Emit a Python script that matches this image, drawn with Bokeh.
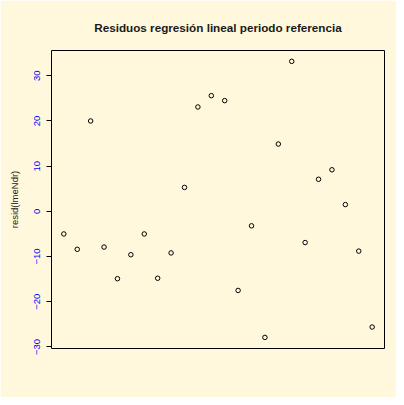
from bokeh.plotting import figure
from bokeh.models import Range1d, FixedTicker
from bokeh.embed import file_html
from bokeh.resources import INLINE

obs_index = list(range(1, 25))
residuals = [-5.0, -8.4, 20.0, -7.9, -14.9, -9.6, -5.0, -14.8, -9.2, 5.3,
             23.1, 25.6, 24.5, -17.5, -3.2, -27.9, 14.9, 33.2, -6.9, 7.1,
             9.2, 1.5, -8.8, -25.6]
y_ticks = [-30, -20, -10, 0, 10, 20, 30]

BG = "#FFF8DC"

p = figure(width=396, height=397, output_backend="svg", toolbar_location=None,
           frame_width=333, frame_height=298,
           min_border_left=51, min_border_right=12, min_border_top=50, min_border_bottom=49,
           x_range=Range1d(0.08, 24.92), y_range=Range1d(-30.35, 35.6),
           title="Residuos regresión lineal periodo referencia")

p.background_fill_color = BG
p.border_fill_color = BG
p.outline_line_color = "black"
p.outline_line_width = 1
p.grid.visible = False
p.xaxis.visible = False

p.title.align = "center"
p.title.text_font = "Liberation Sans"
p.title.text_font_size = "11.7px"
p.title.text_font_style = "bold"
p.title.text_color = "#1a1a1a"
p.title.standoff = 33

ya = p.yaxis[0]
ya.ticker = FixedTicker(ticks=y_ticks)
ya.axis_line_color = None
ya.major_tick_out = 5
ya.major_tick_in = 0
ya.major_tick_line_color = "black"
ya.minor_tick_line_color = None
ya.major_label_orientation = "vertical"
ya.major_label_text_color = "blue"
ya.major_label_text_font = "Liberation Sans"
ya.major_label_text_font_size = "9.5px"
ya.major_label_standoff = 6
ya.axis_label = "resid(lmeNdr)"
ya.axis_label_text_font = "Liberation Sans"
ya.axis_label_text_font_size = "9.5px"
ya.axis_label_text_font_style = "normal"
ya.axis_label_text_color = "#222222"
ya.axis_label_standoff = 12

p.scatter(obs_index, residuals, marker="circle", size=4.5,
          fill_color=None, line_color="black", line_width=1)

html = file_html(p, INLINE)
html = html.replace("<body>", '<body style="background:%s">' % BG, 1)
open("out.html", "w").write(html)
